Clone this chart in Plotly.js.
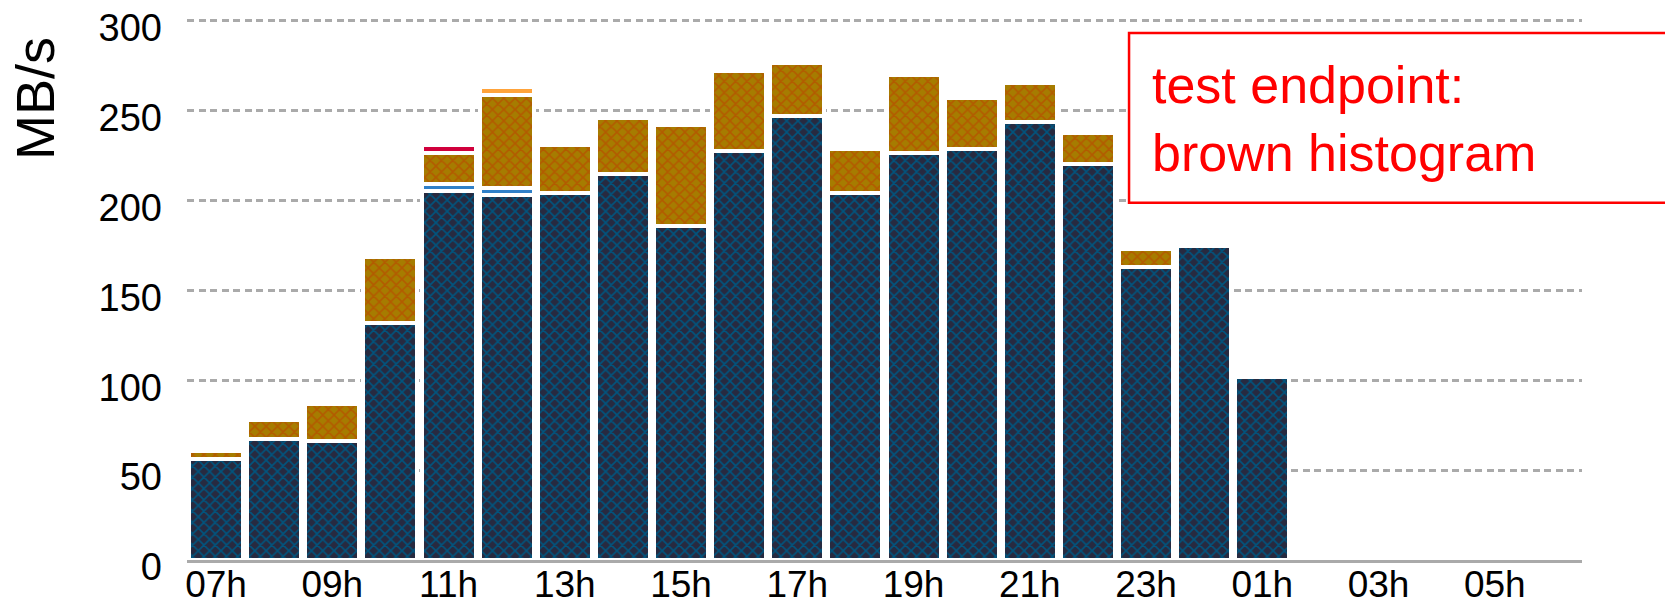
<!DOCTYPE html>
<html>
<head>
<meta charset="utf-8">
<script src="https://cdn.plot.ly/plotly-3.0.1.min.js"></script>
<style>
  html, body { margin: 0; padding: 0; background: #ffffff; }
  #chart { width: 1665px; height: 604px; }
</style>
</head>
<body>
<div id="chart"></div>
<script>
// ---- data (MB/s per hour) ----
const hours = ['07h','08h','09h','10h','11h','12h','13h','14h','15h','16h','17h','18h',
               '19h','20h','21h','22h','23h','00h','01h','02h','03h','04h','05h','06h'];
const barHours = ['07h','08h','09h','10h','11h','12h','13h','14h','15h','16h','17h','18h',
                  '19h','20h','21h','22h','23h','00h','01h'];
const navySeries   = [56.2, 67.3, 66.2, 131.8, 205.4, 203.0, 204.1, 214.7, 185.8, 227.5,
                      247.0, 204.1, 226.4, 228.6, 243.6, 220.3, 163.0, 174.7, 101.8];
const blueSeries   = [null, null, null, null, 3.8, 4.2, null, null, null, null,
                      null, null, null, null, null, null, null, null, null];
const brownSeries  = [4.4, 10.6, 20.6, 36.7, 17.2, 51.5, 26.7, 31.2, 56.2, 44.5,
                      29.5, 24.5, 43.4, 28.4, 21.7, 17.2, 10.0, null, null];
const redSeries    = [null, null, null, null, 4.4, null, null, null, null, null,
                      null, null, null, null, null, null, null, null, null];
const orangeSeries = [null, null, null, null, null, 4.4, null, null, null, null,
                      null, null, null, null, null, null, null, null, null];
const xTickLabels = ['07h','09h','11h','13h','15h','17h','19h','21h','23h','01h','03h','05h'];
const yTicks = [0, 50, 100, 150, 200, 250, 300];
const yTitle = 'MB/s';
const noteText = 'test endpoint:<br>brown histogram';

const FONT = 'Liberation Sans, Arial, Helvetica, sans-serif';
const gapLine = { color: '#ffffff', width: 4 };

function barTrace(name, values, color, pattern) {
  const marker = { color: color, line: gapLine };
  if (pattern) marker.pattern = pattern;
  return { type: 'bar', name: name, x: barHours, y: values, marker: marker, hoverinfo: 'skip' };
}

const traces = [
  barTrace('navy', navySeries, '#272a40',
    { shape: 'x', fgcolor: '#00557f', bgcolor: '#272a40', size: 8, solidity: 0.35, fillmode: 'replace' }),
  barTrace('blue', blueSeries, '#3080c8'),
  barTrace('brown', brownSeries, '#a67c00',
    { shape: 'x', fgcolor: '#b35a00', bgcolor: '#a67c00', size: 8, solidity: 0.35, fillmode: 'replace' }),
  barTrace('red', redSeries, '#d0003c'),
  barTrace('orange', orangeSeries, '#ffa33a')
];

const layout = {
  width: 1665, height: 604,
  margin: { l: 187, r: 83, t: 19, b: 44, pad: 0 },
  paper_bgcolor: '#ffffff', plot_bgcolor: '#ffffff',
  barmode: 'stack', bargap: 0.071,
  showlegend: false,
  font: { family: FONT, color: '#000000' },
  xaxis: {
    type: 'category', categoryorder: 'array', categoryarray: hours,
    range: [-0.5, 23.5], fixedrange: true,
    showgrid: false, zeroline: false,
    showline: true, linecolor: '#aaaaaa', linewidth: 3,
    ticks: '', tickmode: 'array', tickvals: xTickLabels, ticktext: xTickLabels,
    tickfont: { family: FONT, size: 37, color: '#000000' },
    ticklabelstandoff: -10
  },
  yaxis: {
    range: [0, 301], fixedrange: true,
    tickmode: 'array', tickvals: yTicks, ticktext: yTicks.map(String),
    showgrid: true, gridcolor: '#aaaaaa', gridwidth: 3, griddash: '7px,4.5px',
    zeroline: false, showline: false, ticks: '',
    tickfont: { family: FONT, size: 38, color: '#000000' },
    ticklabelstandoff: 24, ticklabelshift: 7
  },
  shapes: [{
    type: 'rect', xref: 'paper', yref: 'paper', layer: 'above',
    x0: 0.6753, x1: 1.1, y0: 0.6605, y1: 0.974,
    line: { color: '#ff0000', width: 2.5 }, fillcolor: '#ffffff'
  }],
  annotations: [
    {
      text: yTitle, xref: 'paper', yref: 'paper', x: -0.109, y: 0.854,
      xanchor: 'center', yanchor: 'middle', textangle: -90, showarrow: false,
      font: { family: FONT, size: 54, color: '#000000' }
    },
    {
      text: noteText, xref: 'paper', yref: 'paper', x: 0.6903, y: 0.8145,
      xanchor: 'left', yanchor: 'middle', align: 'left', showarrow: false,
      font: { family: FONT, size: 52, color: '#ff0000' }
    }
  ]
};

Plotly.newPlot('chart', traces, layout, { staticPlot: true, displayModeBar: false });
</script>
</body>
</html>
